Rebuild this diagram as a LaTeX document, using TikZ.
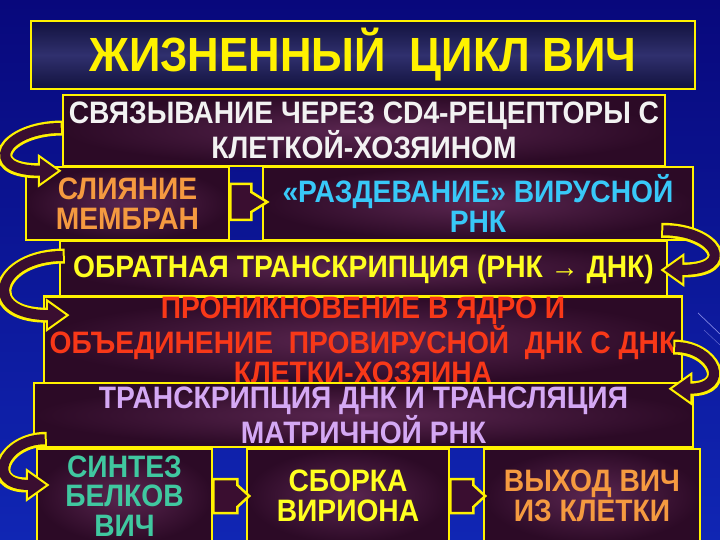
\documentclass[tikz,border=0pt]{standalone}
\usepackage{fontspec}
\setmainfont{Liberation Sans}
\newfontfamily\hf[FakeStretch=0.91]{Liberation Sans}
\usetikzlibrary{calc}
\definecolor{bgtop}{HTML}{08087C}
\definecolor{bgbot}{HTML}{1026B4}
\definecolor{boxmid}{HTML}{5A2650}
\definecolor{boxdark}{HTML}{2C0A26}
\definecolor{titlemid}{HTML}{30306E}
\definecolor{titledark}{HTML}{12123E}
\definecolor{arrowfill}{HTML}{3A0E30}
\definecolor{tWhite}{HTML}{F2F2F2}
\definecolor{tOrange}{HTML}{F59A40}
\definecolor{tBlue}{HTML}{38C8F8}
\definecolor{tYellow}{HTML}{FFFF20}
\definecolor{tRed}{HTML}{F83818}
\definecolor{tLav}{HTML}{D4A8F4}
\definecolor{tGreen}{HTML}{40C8A0}
\newcommand{\hivArrow}[4]{%
  \draw[line width=15pt, yellow] (#1) .. controls +(#3,0) and +(#3,0) .. (#2);
  \draw[line width=2pt, yellow, fill=arrowfill, line join=miter]
    ($(#2)+(0,-15)$) -- ($(#2)+(#4*21,0)$) -- ($(#2)+(0,15)$) -- cycle;
  \draw[line width=10pt, arrowfill, shorten >=-2.5pt, shorten <=2pt]
    (#1) .. controls +(#3,0) and +(#3,0) .. (#2);
}
\begin{document}
\begin{tikzpicture}[x=1pt,y=-1pt,
  box/.style={draw=yellow, line width=2.5pt, shading=radial, inner color=boxmid,
    outer color=boxdark, inner sep=0pt, align=center,
    font=\hf\bfseries\fontsize{31}{30}\selectfont},
  barrow/.style={draw=yellow, line width=2.5pt, fill=arrowfill, line join=miter}]
\useasboundingbox (0,0) rectangle (720,540);
\clip (0,0) rectangle (720,540);
\shade[top color=bgtop, bottom color=bgbot] (0,0) rectangle (720,540);
\draw[blue!30!white, line width=0.7pt, opacity=0.7] (698,313) -- (720,334);
\draw[blue!30!white, line width=0.5pt, opacity=0.5] (704,330) -- (720,345);

% title
\node[draw=yellow, line width=2.5pt, top color=titledark, bottom color=titledark,
  middle color=titlemid, inner sep=0pt, minimum width=664pt, minimum height=68pt,
  text=yellow, font=\hf\bfseries\fontsize{48}{50}\selectfont] (title) at (363,55)
  {ЖИЗНЕННЫЙ\ \ ЦИКЛ ВИЧ};

% boxes
\node[box, minimum width=602pt, minimum height=71pt, text=tWhite] (b1) at (364,130.5)
  {СВЯЗЫВАНИЕ ЧЕРЕЗ CD4-РЕЦЕПТОРЫ С\\КЛЕТКОЙ-ХОЗЯИНОМ};
\node[box, minimum width=203pt, minimum height=73pt, text=tOrange] (b2a) at (127.5,203.5)
  {СЛИЯНИЕ\\МЕМБРАН};
\node[box, minimum width=430pt, minimum height=73pt, text=tBlue] (b2b) at (478,203.5)
  {«РАЗДЕВАНИЕ» ВИРУСНОЙ\\РНК};
\node[box, minimum width=607pt, minimum height=56pt, text=tYellow] (b3) at (363.5,269)
  {ОБРАТНАЯ ТРАНСКРИПЦИЯ (РНК → ДНК)};
\node[box, minimum width=638pt, minimum height=84pt, text=tRed] (b4) at (363,340)
  {ПРОНИКНОВЕНИЕ В ЯДРО И\\ОБЪЕДИНЕНИЕ\ \ ПРОВИРУСНОЙ\ \ ДНК С ДНК\\КЛЕТКИ-ХОЗЯИНА};
\node[box, minimum width=659pt, minimum height=64pt, text=tLav] (b5) at (363.5,415)
  {ТРАНСКРИПЦИЯ ДНК И ТРАНСЛЯЦИЯ\\МАТРИЧНОЙ РНК};
\node[box, minimum width=175pt, minimum height=94pt, text=tGreen,
  font=\hf\bfseries\fontsize{31}{29.5}\selectfont] (b6a) at (124.5,496)
  {СИНТЕЗ\\БЕЛКОВ\\ВИЧ};
\node[box, minimum width=202pt, minimum height=94pt, text=tYellow] (b6b) at (348,496)
  {СБОРКА\\ВИРИОНА};
\node[box, minimum width=216pt, minimum height=94pt, text=tOrange] (b6c) at (592,496)
  {ВЫХОД ВИЧ\\ИЗ КЛЕТКИ};

% straight block arrows
\draw[barrow] ($(b2a.east)+(0,-19.5)$) -- ++(21,0) -- ++(0,8) -- ++(16,10)
  -- ++(-16,10) -- ++(0,8) -- ++(-21,0) -- cycle;
\draw[barrow] ($(b6a.east)+(0,-17)$) -- ++(24,0) -- ++(0,6) -- ++(12,11)
  -- ++(-12,11) -- ++(0,6) -- ++(-24,0) -- cycle;
\draw[barrow] ($(b6b.east)+(0,-17)$) -- ++(23,0) -- ++(0,6) -- ++(12,11)
  -- ++(-12,11) -- ++(0,6) -- ++(-23,0) -- cycle;

% curved arrows
\coordinate (a1s) at ($(b1.west)+(1,-2.5)$);
\coordinate (a1e) at ($(b2a.north west)+(14,5)$);
\coordinate (a2s) at ($(b2b.south east)+(-33,-11)$);
\coordinate (a2e) at ($(b3.east)+(15,1)$);
\coordinate (a3s) at ($(b3.west)+(6,-13)$);
\coordinate (a3e) at ($(b4.north west)+(4,20)$);
\coordinate (a4s) at ($(b4.east)+(-10,7)$);
\coordinate (a4e) at ($(b5.north east)+(-3,7)$);
\coordinate (a5s) at ($(b5.south west)+(14,-9)$);
\coordinate (a5e) at ($(b6a.west)+(-9,-11)$);
\hivArrow{a1s}{a1e}{-59}{1}
\hivArrow{a2s}{a2e}{55}{-1}
\hivArrow{a3s}{a3e}{-68}{1}
\hivArrow{a4s}{a4e}{41}{-1}
\hivArrow{a5s}{a5e}{-43}{1}
\end{tikzpicture}
\end{document}
